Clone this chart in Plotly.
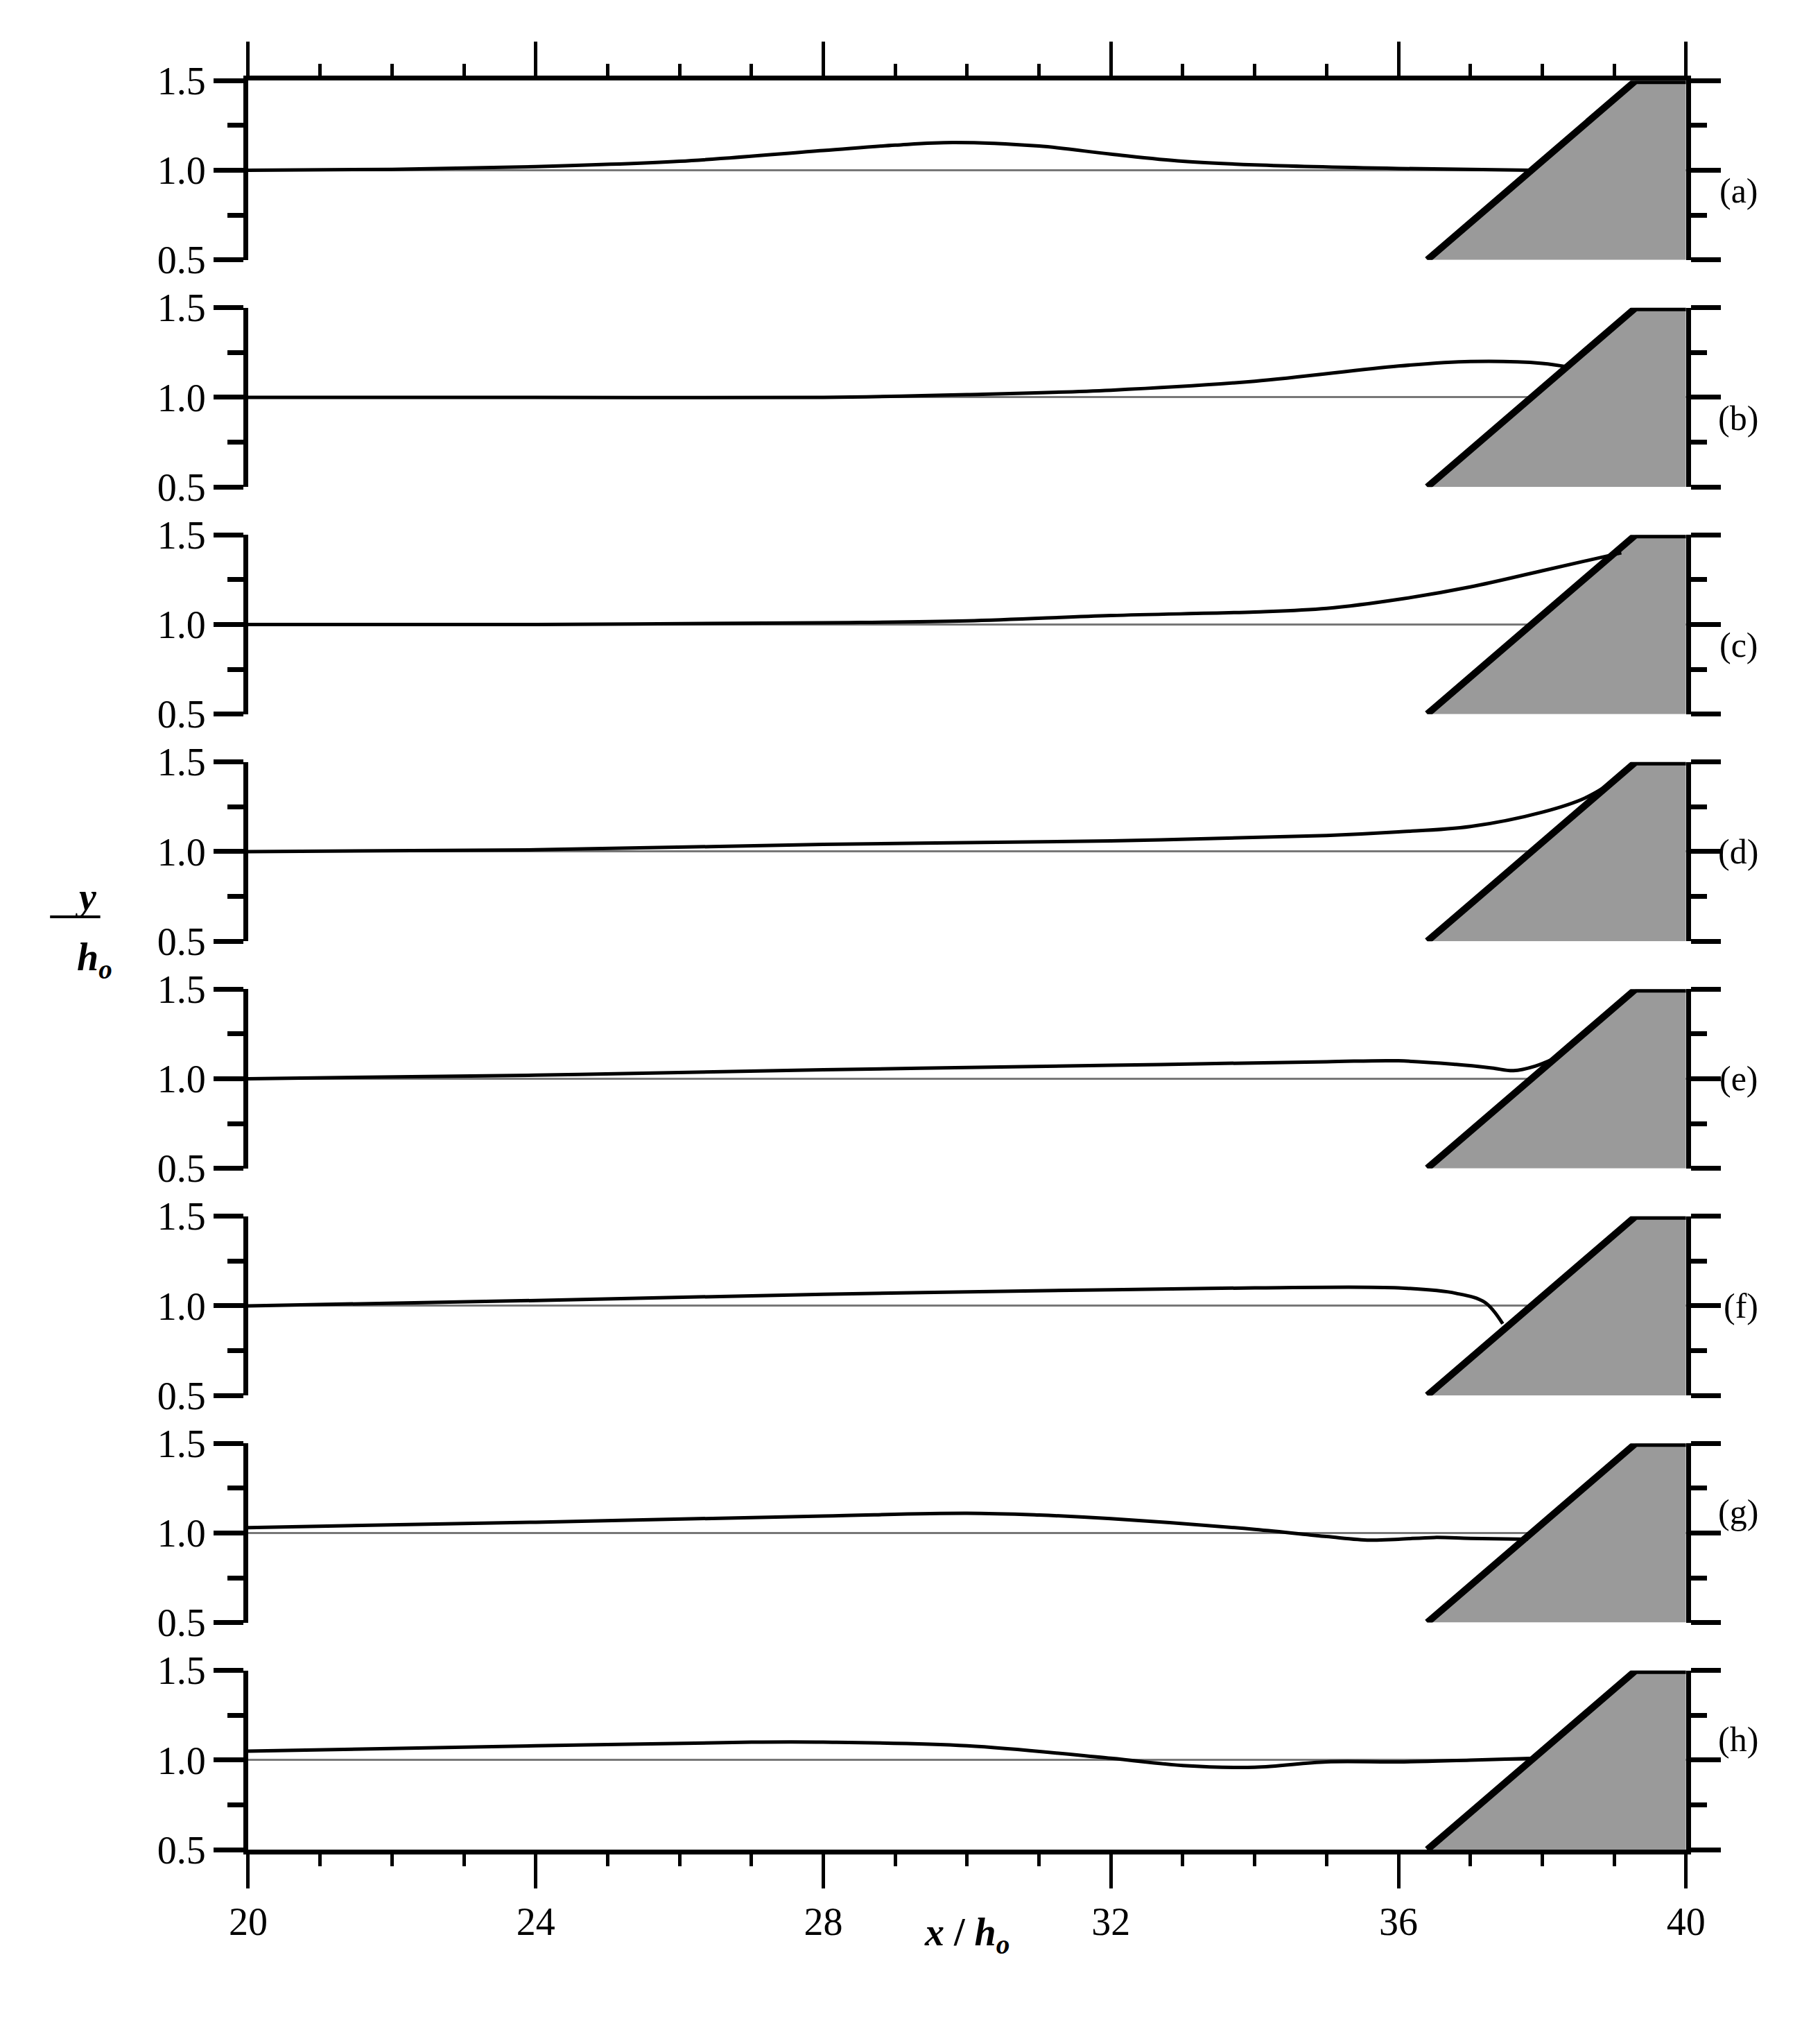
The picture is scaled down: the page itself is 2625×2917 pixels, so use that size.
import plotly.graph_objects as go

W, H = 2625, 2917
PANEL_LABELS = ["(a)", "(b)", "(c)", "(d)", "(e)", "(f)", "(g)", "(h)"]
X_TICKS = [20, 24, 28, 32, 36, 40]
Y_TICKS = [0.5, 1.0, 1.5]
Y_TICK_TEXT = ["0.5", "1.0", "1.5"]
SLOPE_X = [36.4, 39.3, 40.0]
SLOPE_Y = [0.5, 1.5, 1.5]

xa = [20, 22, 24, 26, 28, 29, 29.8, 31, 32, 33, 34, 36, 37.85]
ya = [1.0, 1.005, 1.02, 1.05, 1.11, 1.14, 1.155, 1.135, 1.09, 1.05, 1.03, 1.01, 1.0]
xb = [20, 24, 28, 30, 32, 34, 36, 37, 38, 38.35]
yb = [1.0, 1.0, 1.0, 1.015, 1.04, 1.09, 1.175, 1.2, 1.19, 1.17]
xc = [20, 24, 28, 30, 32, 34, 35, 36, 37, 38, 39.1]
yc = [1.0, 1.0, 1.01, 1.02, 1.05, 1.07, 1.09, 1.14, 1.21, 1.3, 1.4]
xd = [20, 24, 28, 32, 35, 36, 37, 38, 38.6, 39.1]
yd = [1.0, 1.01, 1.04, 1.06, 1.09, 1.11, 1.14, 1.22, 1.3, 1.42]
xe = [20, 24, 28, 32, 35, 36, 36.8, 37.3, 37.6, 37.9, 38.15]
ye = [1.0, 1.02, 1.05, 1.075, 1.095, 1.1, 1.08, 1.06, 1.045, 1.07, 1.11]
xf = [20, 24, 28, 32, 34, 36, 36.8, 37.2, 37.45]
yf = [1.0, 1.03, 1.065, 1.09, 1.1, 1.1, 1.07, 1.02, 0.9]
xg = [20, 24, 28, 30, 31, 32, 34, 35, 35.6, 36, 36.5, 37, 37.8]
yg = [1.03, 1.06, 1.095, 1.11, 1.1, 1.08, 1.02, 0.98, 0.96, 0.965, 0.975, 0.97, 0.965]
xh = [20, 24, 27, 28, 30, 32, 33, 34, 35, 36, 37, 37.9]
yh = [1.05, 1.08, 1.1, 1.1, 1.08, 1.01, 0.97, 0.96, 0.99, 0.99, 1.0, 1.01]
CURVES = [(xa, ya), (xb, yb), (xc, yc), (xd, yd), (xe, ye), (xf, yf), (xg, yg), (xh, yh)]

FONT = "Liberation Serif"
x0, x1 = 329 / W, 2448 / W
fig = go.Figure()
layout = {}
for i, (cx, cy) in enumerate(CURVES):
    n = "" if i == 0 else str(i + 1)
    top = 80 + i * 334.6
    bot = top + 264
    xs, ys = "x" + n, "y" + n
    # slope fill
    fig.add_trace(go.Scatter(x=SLOPE_X + [40.0, 36.4], y=SLOPE_Y + [0.5, 0.5], fill="toself",
                             fillcolor="#9a9a9a", line=dict(width=0), mode="lines",
                             xaxis=xs, yaxis=ys, showlegend=False, hoverinfo="skip"))
    fig.add_trace(go.Scatter(x=cx, y=cy, mode="lines", line=dict(color="black", width=5, shape="spline"),
                             xaxis=xs, yaxis=ys, showlegend=False))
    fig.add_trace(go.Scatter(x=SLOPE_X, y=SLOPE_Y, mode="lines", line=dict(color="black", width=10),
                             xaxis=xs, yaxis=ys, showlegend=False, cliponaxis=False))
    xax = dict(domain=[x0, x1], range=[20, 40], anchor=ys, showgrid=False, zeroline=False,
               tickvals=X_TICKS, showticklabels=False, ticks="", showline=False)
    if i == 0:
        xax.update(side="top", showline=True, linecolor="black", linewidth=7, ticks="outside",
                   ticklen=49, tickwidth=5, tickcolor="black",
                   minor=dict(dtick=1, ticks="outside", ticklen=17, tickwidth=5, tickcolor="black"))
    if i == 7:
        xax.update(side="bottom", showline=True, linecolor="black", linewidth=7, ticks="outside",
                   ticklen=49, tickwidth=5, tickcolor="black", showticklabels=True,
                   tickfont=dict(family=FONT, size=56, color="black"),
                   minor=dict(dtick=1, ticks="outside", ticklen=17, tickwidth=5, tickcolor="black"))
    if i > 0:
        xax["matches"] = "x"
    layout["xaxis" + n] = xax
    layout["yaxis" + n] = dict(domain=[1 - bot / H, 1 - top / H], range=[0.5, 1.5], anchor=xs,
                               tickvals=Y_TICKS, ticktext=Y_TICK_TEXT, showgrid=True,
                               gridcolor="#777777", gridwidth=3, zeroline=False,
                               showline=True, linecolor="black", linewidth=7, mirror="ticks",
                               ticks="outside", ticklen=43, tickwidth=7, tickcolor="black",
                               tickfont=dict(family=FONT, size=56, color="black"),
                               minor=dict(tickvals=[0.75, 1.25], ticks="outside", ticklen=23,
                                          tickwidth=7, tickcolor="black"))
    fig.add_annotation(text=PANEL_LABELS[i], x=2557 / W, y=1 - (top + 132) / H, xref="paper", yref="paper",
                       showarrow=False, font=dict(family=FONT, size=50, color="black"))

fig.update_layout(**layout)
fig.add_annotation(text="<b><i>x</i> / <i>h<sub>o</sub></i></b>", x=(x0 + x1) / 2, y=1 - 2850 / H,
                   xref="paper", yref="paper", showarrow=False, font=dict(family=FONT, size=56, color="black"))
fig.add_annotation(text="<b><i>y</i></b>", x=72 / W, y=1 - 1282 / H, xref="paper", yref="paper",
                   showarrow=False, font=dict(family=FONT, size=56, color="black"))
fig.add_annotation(text="<b><i>h<sub>o</sub></i></b>", x=75 / W, y=1 - 1375 / H, xref="paper", yref="paper",
                   showarrow=False, font=dict(family=FONT, size=56, color="black"))
fig.add_shape(type="line", xref="paper", yref="paper", x0=37 / W, x1=111 / W, y0=1 - 1312 / H, y1=1 - 1312 / H,
              line=dict(color="black", width=4))
fig.update_layout(width=W, height=H, margin=dict(l=0, r=0, t=0, b=0), plot_bgcolor="white",
                  paper_bgcolor="white", showlegend=False)
fig.write_html("out.html")
